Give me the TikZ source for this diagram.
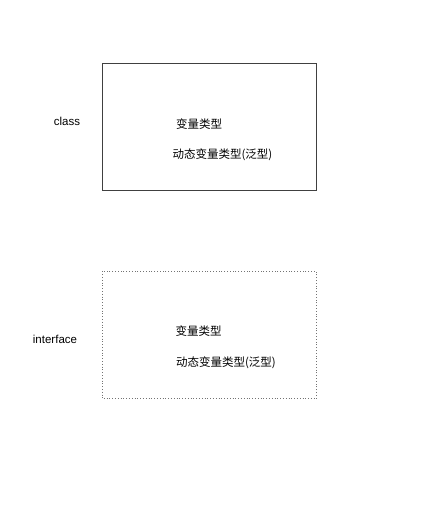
\documentclass[tikz,border=0pt]{standalone}
\usepackage{fontspec}
\setmainfont{Liberation Sans}
\newfontfamily\cjk{Noto Sans CJK SC}
\begin{document}
\begin{tikzpicture}[x=1pt,y=1pt,
  lbl/.style={font=\fontsize{11.5}{13}\selectfont, inner sep=0pt, text=black},
  cjklbl/.style={font=\cjk\fontsize{11.5}{13}\selectfont, inner sep=0pt, text=black},
  solidbox/.style={draw=black!75, line width=0.8pt},
  dotbox/.style={draw=black!55, line width=0.8pt, dotted}]
\useasboundingbox (0,0) rectangle (426,507);
\fill[white] (0,0) rectangle (426,507);
% top: class
\draw[solidbox] (102.5,443.5) rectangle (316.5,316.5);
\node[cjklbl] (c1) at (199,383) {变量类型};
\node[cjklbl] (c2) at (222.5,352) {动态变量类型(泛型)};
\node[lbl] (cls) at (67,386) {class};
% bottom: interface
\draw[dotbox] (102,235.5) rectangle (316.5,108.5);
\node[cjklbl] (i1) at (198.5,175.5) {变量类型};
\node[cjklbl] (i2) at (226,144) {动态变量类型(泛型)};
\node[lbl] (ifc) at (55,168) {interface};
\end{tikzpicture}
\end{document}
